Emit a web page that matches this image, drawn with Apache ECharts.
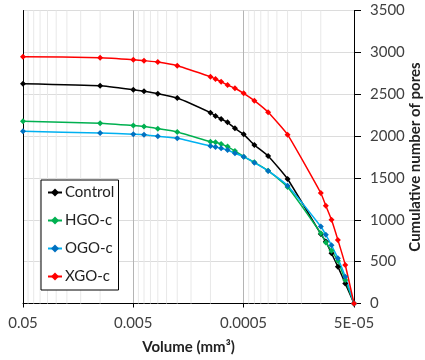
<!DOCTYPE html>
<html><head><meta charset="utf-8">
<script src="https://cdn.jsdelivr.net/npm/echarts@6/dist/echarts.min.js"></script>
<style>html,body{margin:0;padding:0;background:#fff}#c{width:425px;height:360px}</style>
</head><body><div id="c"></div>
<script>
const volumes = [0.05, 0.01, 0.005, 0.004, 0.003, 0.002, 0.001, 0.0009, 0.0008, 0.0007, 0.0006, 0.0005, 0.0004, 0.0003, 0.0002, 0.0001, 0.00009, 0.00008, 0.00007, 0.00006, 0.00005];
const control = [2626, 2602, 2554, 2535, 2507, 2455, 2280, 2240, 2204, 2165, 2093, 2021, 1894, 1762, 1487, 830, 740, 600, 440, 240, 0];
const hgo = [2177, 2153, 2125, 2113, 2088, 2049, 1933, 1926, 1906, 1874, 1822, 1754, 1686, 1587, 1392, 840, 730, 630, 510, 280, 0];
const ogo = [2057, 2037, 2022, 2017, 1998, 1974, 1882, 1870, 1854, 1834, 1794, 1754, 1682, 1583, 1407, 920, 820, 695, 540, 320, 0];
const xgo = [2949, 2937, 2913, 2901, 2885, 2841, 2710, 2682, 2650, 2610, 2571, 2511, 2423, 2284, 2017, 1320, 1168, 1000, 760, 460, 0];
const xTickLabels = ['0.05', '0.005', '0.0005', '5E-05'];
const xTickValues = [0.05, 0.005, 0.0005, 0.00005];

const FONT = 'Lato';
// minor vertical gridlines of the log axis (2..9 x decade start)
const minorGrid = [];
[0.00005, 0.0005, 0.005].forEach(base => {
  for (let k = 2; k <= 9; k++) {
    const v = base * k;
    minorGrid.push([v, 0], [v, 3500], [v, '-']);
  }
});

function fmtX(v) {
  let best = 0, bd = Infinity;
  xTickValues.forEach((t, i) => { const d = Math.abs(Math.log10(v) - Math.log10(t)); if (d < bd) { bd = d; best = i; } });
  return bd < 0.01 ? xTickLabels[best] : '';
}

function mk(name, data, lineColor, markColor) {
  return {
    name, type: 'line', z: 3,
    data: volumes.map((v, i) => [v, data[i]]),
    symbol: 'diamond', symbolSize: 6,
    smooth: 0.15,
    lineStyle: { color: lineColor, width: 1.5 },
    itemStyle: { color: markColor },
    emphasis: { disabled: true }
  };
}

const chart = echarts.init(document.getElementById('c'), null, { renderer: 'canvas' });
chart.setOption({
  animation: false,
  backgroundColor: '#fff',
  grid: { left: 23, right: 71, top: 10.5, bottom: 56.5, containLabel: false, outerBoundsMode: 'none' },
  xAxis: {
    type: 'log', logBase: 10, min: 0.00005, max: 0.05, interval: 1, inverse: true,
    name: 'Volume (mm³)', nameLocation: 'middle', nameGap: 36,
    nameTextStyle: { fontFamily: FONT, fontWeight: 'bold', fontSize: 15, color: '#222' },
    axisLine: { lineStyle: { color: '#000', width: 1 } },
    axisTick: { show: true, length: 4, lineStyle: { color: '#000' } },
    axisLabel: { fontFamily: FONT, fontSize: 15, color: '#404040', margin: 12, formatter: fmtX, showMinLabel: true, showMaxLabel: true },
    splitLine: { show: true, lineStyle: { color: '#b4b4b4', width: 1 } },
    minorTick: { show: false }, minorSplitLine: { show: false }
  },
  yAxis: [{
    type: 'value', position: 'right', min: 0, max: 3500, interval: 500,
    name: 'Cumulative number of pores', nameLocation: 'middle', nameGap: 54, nameRotate: 90,
    nameMoveOverlap: false,
    nameTextStyle: { fontFamily: FONT, fontWeight: 'bold', fontSize: 15, color: '#222' },
    axisLine: { show: true, lineStyle: { color: '#000', width: 1 } },
    axisTick: { show: true, inside: false, length: 7, lineStyle: { color: '#000' } },
    axisLabel: { fontFamily: FONT, fontSize: 15, color: '#404040', margin: 16, align: 'left', formatter: v => String(v) },
    splitLine: { show: true, lineStyle: { color: '#dcdcdc', width: 1 } }
  }, {
    type: 'value', position: 'left', min: 0, max: 3500, interval: 500,
    axisLine: { show: true, onZero: false, lineStyle: { color: '#000', width: 1 } },
    axisTick: { show: false }, axisLabel: { show: false }, splitLine: { show: false }
  }],
  graphic: [{
    type: 'rect', z: 50, left: 40.5, top: 179.5,
    shape: { width: 77.5, height: 110 },
    style: { fill: '#fff', stroke: '#000', lineWidth: 1 }
  }],
  legend: {
    orient: 'vertical', left: 42, top: 180, z: 60,
    padding: [5, 0, 5, 5], itemGap: 13, itemWidth: 14, itemHeight: 10,
    textStyle: { fontFamily: FONT, fontSize: 15, color: '#222', padding: [0, 0, 0, -2] },
    data: ['Control', 'HGO-c', 'OGO-c', 'XGO-c']
  },
  series: [
    {
      name: 'minor', type: 'line', z: 1, silent: true, data: minorGrid,
      symbol: 'none', connectNulls: false,
      lineStyle: { color: '#e8e8e8', width: 1 }, emphasis: { disabled: true }
    },
    mk('Control', control, '#000000', '#000000'),
    mk('HGO-c', hgo, '#00B050', '#00B050'),
    mk('OGO-c', ogo, '#00B0F0', '#0070C0'),
    mk('XGO-c', xgo, '#FF0000', '#FF0000')
  ]
});
</script></body></html>
